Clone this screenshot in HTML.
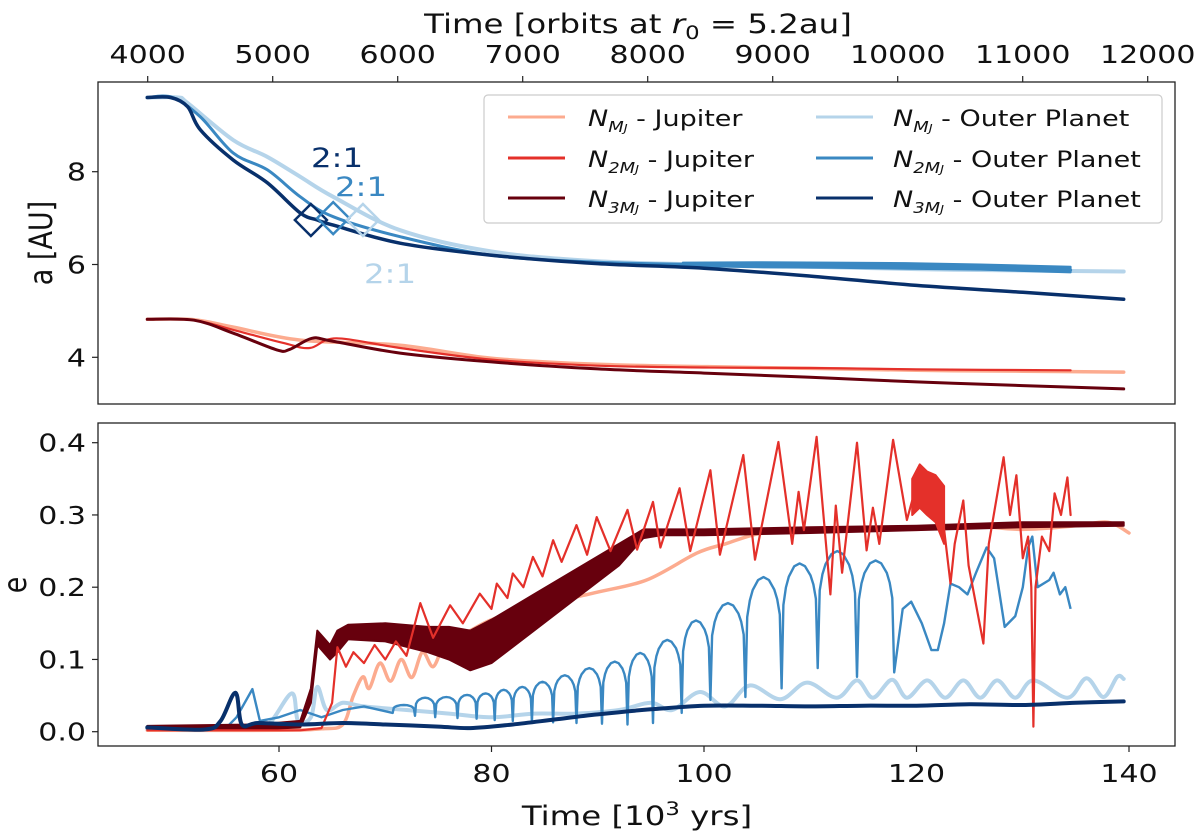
<!DOCTYPE html>
<html><head><meta charset="utf-8">
<style>
html,body{margin:0;padding:0;background:#fff;}
svg{display:block;font-family:"DejaVu Sans","Liberation Sans",sans-serif;}
</style></head>
<body>
<svg id="chart" width="1200" height="839" viewBox="0 0 1200 839" xmlns="http://www.w3.org/2000/svg">
<rect width="1200" height="839" fill="#fff"/>
<g id="top-panel"></g>
<g id="bot-panel"></g>
<g id="axes"></g>
<g id="labels"></g>
</svg>
<script>
// ---------- data ----------
const orbitTicks = [4000,5000,6000,7000,8000,9000,10000,11000,12000];
const timeTicks = [60,80,100,120,140];
const aTicks = [4,6,8];
const eTicks = [0.0,0.1,0.2,0.3,0.4];

const aNavyOut = [[47.6,9.6],[49.8,9.6],[51.4,9.4],[52.6,8.9],[55.7,8.25],[58.9,7.76],[62,7.11],[63.6,6.96],[65.1,6.85],[71.4,6.46],[80,6.2],[90,6.02],[100,5.92],[110,5.75],[120,5.55],[130,5.4],[139.5,5.25]];
const aBlueOut = [[47.6,9.6],[50,9.6],[52.6,9.18],[55.7,8.4],[58.9,8.04],[62,7.46],[65.1,7.03],[71.4,6.6],[80,6.2],[90,6.05],[100,6.0],[110,5.98],[120,5.95],[134.5,5.88]];
const aLightOut = [[47.6,9.6],[50.5,9.6],[51.4,9.48],[55.7,8.68],[58.9,8.32],[62,7.89],[65.1,7.46],[71.4,6.74],[80,6.28],[90,6.07],[100,6.0],[110,5.95],[120,5.9],[130,5.87],[139.5,5.85]];
const aDarkJup = [[47.6,4.82],[52,4.8],[55.7,4.52],[59.8,4.16],[61,4.17],[63.1,4.41],[65,4.35],[71.4,4.09],[80,3.9],[90,3.75],[100,3.66],[110,3.57],[120,3.47],[130,3.39],[139.5,3.32]];
const aRedJup = [[47.6,4.82],[52,4.8],[55.7,4.59],[60.4,4.31],[62.9,4.2],[65.4,4.41],[71.4,4.2],[80,3.95],[90,3.82],[100,3.78],[110,3.77],[120,3.74],[134.5,3.72]];
const aLightJup = [[47.6,4.82],[52,4.81],[55.7,4.65],[62,4.37],[71.4,4.26],[80,3.98],[90,3.85],[100,3.8],[110,3.76],[120,3.72],[130,3.7],[139.5,3.68]];
const resonanceT = [63.0,65.1,67.9];
const resonanceA = [6.96,7.0,6.96];

const eNavyOut = [[47.6,0.006],[53,0.003],[54.5,0.015],[55.9,0.054],[56.5,0.01],[58,0.012],[62,0.01],[66,0.012],[70,0.01],[75,0.007],[78,0.005],[82,0.01],[86,0.017],[90,0.024],[95,0.031],[100,0.036],[105,0.036],[110,0.035],[115,0.036],[120,0.036],[125,0.038],[130,0.037],[135,0.04],[139.5,0.042]];
const eLightOut = [[47.6,0.004],[57,0.004],[59,0.01],[61.2,0.053],[61.8,0.015],[63,0.02],[63.6,0.062],[64.5,0.03],[66,0.04],[68,0.035],[72,0.03],[76,0.025],[80,0.02],[84,0.025],[88,0.025],[92,0.03],[95,0.04],[97,0.03],[99.6,0.055],[102,0.035],[104.3,0.064],[107.2,0.045],[109.7,0.068],[112.5,0.047],[114.4,0.071],[115.9,0.047],[117.7,0.072],[119.1,0.047],[121,0.071],[122.7,0.047],[124.4,0.071],[126,0.047],[127.6,0.071],[129.3,0.047],[131,0.071],[134.2,0.047],[136,0.074],[137.6,0.048],[138.9,0.076],[139.5,0.073]];
const eBlueEarly = [[47.6,0.005],[55,0.005],[56,0.02],[57.5,0.059],[58.2,0.015],[60,0.02],[62,0.03],[64,0.02],[66,0.03],[68,0.035],[70.7,0.026]];
const blueTroughT = [70.7,72.8,74.7,76.8,78.6,80.3,82.0,83.8,85.8,88.0,90.4,92.8,95.2,97.9,100.6,103.9,107.3,110.7,114.4,117.9];
const blueTroughE = [0.026,0.022,0.02,0.019,0.018,0.016,0.015,0.014,0.013,0.012,0.011,0.01,0.012,0.026,0.044,0.048,0.06,0.088,0.076,0.082];
const bluePeakE = [0.037,0.047,0.048,0.051,0.053,0.058,0.062,0.069,0.078,0.088,0.097,0.109,0.127,0.154,0.178,0.214,0.233,0.25,0.237];
const eBlueLate = [[117.9,0.082],[118.7,0.17],[119.5,0.18],[120.5,0.15],[121.4,0.113],[122,0.113],[122.6,0.15],[123.2,0.205],[124,0.2],[124.8,0.19],[125.6,0.22],[126.6,0.255],[127.3,0.24],[128.3,0.145],[129.3,0.16],[130,0.2],[130.5,0.255],[130.9,0.27],[131.4,0.2],[132.5,0.21],[132.9,0.22],[133.5,0.19],[134,0.2],[134.5,0.17]];
const eSalmonJup = [[47.6,0.002],[60,0.002],[64,0.004],[66,0.01],[67,0.05],[67.9,0.076],[68.5,0.06],[69.5,0.095],[70.5,0.07],[71.5,0.1],[72.5,0.075],[73.5,0.11],[74.5,0.09],[75.5,0.12],[76.5,0.13],[78,0.14],[80,0.155],[83.6,0.172],[86,0.18],[89.9,0.193],[94.6,0.21],[99.3,0.247],[102,0.26],[105.5,0.275],[110,0.277],[113,0.28],[116,0.283],[120,0.28],[125,0.285],[130,0.28],[135,0.285],[138,0.29],[140,0.275]];
const darkT = [47.6,58,62,63,63.6,64.8,65.5,66.5,70,74,76,78,80,84,88,92,94.3,96,100,110,120,130,139.5];
const darkHi = [0.008,0.01,0.015,0.06,0.14,0.12,0.14,0.148,0.15,0.145,0.145,0.14,0.155,0.19,0.225,0.26,0.28,0.28,0.28,0.283,0.285,0.29,0.29];
const darkLo = [0.003,0.003,0.006,0.04,0.12,0.1,0.11,0.128,0.125,0.11,0.1,0.085,0.095,0.14,0.185,0.23,0.268,0.272,0.272,0.275,0.279,0.283,0.285];
const eRedJup = [[47.6,0.002],[62,0.002],[64,0.005],[65,0.04],[65.5,0.117],[66.3,0.09],[67,0.11],[68,0.095],[69,0.12],[70,0.1],[71,0.125],[72,0.105],[73.3,0.178],[74.5,0.13],[76.1,0.175],[77.3,0.15],[78.9,0.191],[80.0,0.17],[80.5,0.205],[81.5,0.185],[82.0,0.219],[83.0,0.2],[83.9,0.242],[84.8,0.215],[85.8,0.265],[86.6,0.235],[88.0,0.286],[89.0,0.245],[89.9,0.297],[91.2,0.25],[92.8,0.307],[93.7,0.252],[95.2,0.318],[95.9,0.255],[97.7,0.337],[98.7,0.25],[100.6,0.362],[101.5,0.245],[103.7,0.383],[104.8,0.238],[107.0,0.401],[108.3,0.26],[108.9,0.332],[109.4,0.279],[110.6,0.408],[111.9,0.19],[112.4,0.313],[113,0.22],[114.4,0.4],[115.3,0.251],[115.9,0.31],[116.5,0.26],[117.8,0.404],[119.1,0.293],[119.6,0.32],[122.6,0.28],[123.2,0.205],[123.6,0.26],[124.4,0.32],[124.9,0.23],[126.3,0.122],[126.8,0.26],[128.2,0.38],[128.8,0.3],[129.4,0.355],[130,0.24],[130.5,0.27],[130.8,0.2],[131,0.007],[131.2,0.2],[131.8,0.27],[132.5,0.25],[133,0.33],[133.6,0.3],[134.2,0.352],[134.5,0.3]];
const redBandT = [119.6,120.3,121,121.8,122.6];
const redBandHi = [0.35,0.37,0.36,0.355,0.34];
const redBandLo = [0.3,0.31,0.3,0.29,0.26];
const aBlueBandT = [98,105,112,119,126,134.5];
const aBlueBandHi = [6.04,6.05,6.04,6.03,6.0,5.95];
const aBlueBandLo = [5.97,5.94,5.93,5.91,5.89,5.83];

// ---------- scales ----------
const xT = t => 279 + (t - 60) * 10.625;
const xO = o => 147.7 + (o - 4000) * 0.125;
const yA = a => 357.3 - (a - 4) * 46.4;
const yE = e => 731.7 - e * 722.5;

const C = {salmon:'#fcab8f', red:'#e4302a', dark:'#67000d', light:'#b5d4ea', blue:'#3a88c2', navy:'#08306b'};
const NS = 'http://www.w3.org/2000/svg';
const SX = 1.2;
function mk(tag, attrs, parent){const el=document.createElementNS(NS,tag);for(const k in attrs)el.setAttribute(k,attrs[k]);parent.appendChild(el);return el;}

function smoothPath(pts){
  let d = `M${pts[0][0].toFixed(1)},${pts[0][1].toFixed(1)}`;
  for(let i=0;i<pts.length-1;i++){
    const p0=pts[Math.max(0,i-1)],p1=pts[i],p2=pts[i+1],p3=pts[Math.min(pts.length-1,i+2)];
    const c1x=p1[0]+(p2[0]-p0[0])/6,c1y=p1[1]+(p2[1]-p0[1])/6;
    const c2x=p2[0]-(p3[0]-p1[0])/6,c2y=p2[1]-(p3[1]-p1[1])/6;
    d+=` C${c1x.toFixed(1)},${c1y.toFixed(1)} ${c2x.toFixed(1)},${c2y.toFixed(1)} ${p2[0].toFixed(1)},${p2[1].toFixed(1)}`;
  }
  return d;
}
function linePath(pts){return 'M'+pts.map(p=>p[0].toFixed(1)+','+p[1].toFixed(1)).join(' L');}

const topG = document.getElementById('top-panel');
const botG = document.getElementById('bot-panel');
const axG = document.getElementById('axes');
const labG = document.getElementById('labels');

// stretched text helper (returns the text element)
function stext(parent, x, y, size, anchor, fill, extra){
  const g = mk('g',{transform:`translate(${x},${y}) scale(${SX},1)` + (extra||'')}, parent);
  return mk('text',{x:0,y:0,'text-anchor':anchor,'font-size':size,fill:fill}, g);
}

function drawLine(parent, data, sx, sy, color, w, name, smooth=true){
  const pts = data.map(p=>[sx(p[0]), sy(p[1])]);
  const el = mk('path',{d: smooth?smoothPath(pts):linePath(pts), fill:'none', stroke:color, 'stroke-width':w, 'stroke-linejoin':'round','stroke-linecap':'round'}, parent);
  
  
  return el;
}
function drawBand(parent, ts, hi, lo, sx, sy, color, name){
  const up = ts.map((t,i)=>[sx(t), sy(hi[i])]);
  const dn = ts.map((t,i)=>[sx(t), sy(lo[i])]).reverse();
  const el = mk('path',{d: linePath(up.concat(dn))+' Z', fill:color, stroke:color, 'stroke-width':2,'stroke-linejoin':'round'}, parent);
  
  
}

const defs = mk('defs',{},document.getElementById('chart'));
const cp1 = mk('clipPath',{id:'c1'},defs); mk('rect',{x:98,y:82,width:1077,height:322},cp1);
const cp2 = mk('clipPath',{id:'c2'},defs); mk('rect',{x:98,y:423,width:1077,height:323},cp2);
topG.setAttribute('clip-path','url(#c1)');
botG.setAttribute('clip-path','url(#c2)');

// ---------- top panel ----------
drawLine(topG, aLightJup, xT, yA, C.salmon, 3.5, 'a-line-nmj-jupiter');
drawLine(topG, aRedJup, xT, yA, C.red, 2.2, 'a-line-n2mj-jupiter');
drawLine(topG, aDarkJup, xT, yA, C.dark, 3, 'a-line-n3mj-jupiter');
drawLine(topG, aLightOut, xT, yA, C.light, 4, 'a-line-nmj-outer');
drawBand(topG, aBlueBandT, aBlueBandHi, aBlueBandLo, xT, yA, C.blue, 'a-band-n2mj-outer');
drawLine(topG, aBlueOut, xT, yA, C.blue, 3, 'a-line-n2mj-outer');
drawLine(topG, aNavyOut, xT, yA, C.navy, 3.5, 'a-line-n3mj-outer');
const resColors = [C.navy, C.blue, C.light];
const resNames = ['resonance-marker-n3mj','resonance-marker-n2mj','resonance-marker-nmj'];
resonanceT.forEach((t,i)=>{
  const cx=xT(t), cy=yA(resonanceA[i]), r=16;
  const el = mk('path',{d:`M${cx},${cy-r} L${cx+r},${cy} L${cx},${cy+r} L${cx-r},${cy} Z`, fill:'none', stroke:resColors[i], 'stroke-width':2.5}, topG);
  
  
});
const resLabels = [[337,167,C.navy],[361,196,C.blue],[390,283,C.light]];
const resLabelNames = ['resonance-label-n3mj','resonance-label-n2mj','resonance-label-nmj'];
resLabels.forEach((p,i)=>{
  const el = stext(labG, p[0], p[1], 27, 'middle', p[2]);
  el.textContent='2:1';
  
  
});

// ---------- bottom panel ----------
drawLine(botG, eSalmonJup, xT, yE, C.salmon, 3.5, 'e-line-nmj-jupiter');
drawLine(botG, eLightOut, xT, yE, C.light, 4, 'e-line-nmj-outer');
(function(){
  const pts = eBlueEarly.map(p=>[xT(p[0]), yE(p[1])]);
  for(let i=0;i<blueTroughT.length-1;i++){
    const a=blueTroughT[i], b=blueTroughT[i+1], ta=blueTroughE[i], tb=blueTroughE[i+1], pk=bluePeakE[i];
    const fr=[0.05,0.12,0.2,0.35,0.5,0.65,0.8,0.88,0.95,1];
    fr.forEach(s=>{
      const base = ta + (tb-ta)*s;
      const shape = Math.pow(Math.sin(Math.PI*s),0.22);
      pts.push([xT(a+(b-a)*s), yE(base + (pk-base)*shape)]);
    });
  }
  eBlueLate.slice(1).forEach(p=>pts.push([xT(p[0]), yE(p[1])]));
  const el = mk('path',{d:linePath(pts), fill:'none', stroke:C.blue,'stroke-width':2.4,'stroke-linejoin':'round'}, botG);
  
  
})();
drawBand(botG, darkT, darkHi, darkLo, xT, yE, C.dark, 'e-band-n3mj-jupiter');
drawBand(botG, redBandT, redBandHi, redBandLo, xT, yE, C.red, 'e-band-n2mj-jupiter');
drawLine(botG, eRedJup, xT, yE, C.red, 2.2, 'e-line-n2mj-jupiter', false);
drawLine(botG, eNavyOut, xT, yE, C.navy, 4, 'e-line-n3mj-outer');

// ---------- axes ----------
function frame(y0,h,name){const el=mk('rect',{x:98,y:y0,width:1077,height:h,fill:'none',stroke:'#222','stroke-width':1.3},axG);
  
  }
frame(82,322,'top-panel-frame'); frame(423,323,'bottom-panel-frame');

orbitTicks.forEach(o=>{
  const x=xO(o);
  mk('line',{x1:x,y1:82,x2:x,y2:76,stroke:'#222','stroke-width':1.2},axG);
  const t=stext(labG, x, 63, 25, 'middle', '#111');
  t.textContent=o;
  
  
});
timeTicks.forEach(v=>{
  const x=xT(v);
  mk('line',{x1:x,y1:746,x2:x,y2:752,stroke:'#222','stroke-width':1.2},axG);
  const t=stext(labG, x, 782, 25, 'middle', '#111');
  t.textContent=v;
  
  
});
aTicks.forEach(v=>{
  const y=yA(v);
  mk('line',{x1:98,y1:y,x2:92,y2:y,stroke:'#222','stroke-width':1.2},axG);
  const t=stext(labG, 86, y+9, 25, 'end', '#111');
  t.textContent=v;
  
  
});
eTicks.forEach(v=>{
  const y=yE(v);
  mk('line',{x1:98,y1:y,x2:92,y2:y,stroke:'#222','stroke-width':1.2},axG);
  const t=stext(labG, 86, y+9, 25, 'end', '#111');
  t.textContent=v.toFixed(1);
  
  
});
</script>
<svg style="position:absolute;left:0;top:0" width="1200" height="839" font-family="DejaVu Sans, sans-serif">
  <g transform="translate(638,33) scale(1.2,1)"><text x="0" y="0" text-anchor="middle" font-size="27" fill="#111">Time [orbits at <tspan font-style="italic">r</tspan><tspan font-size="19" dy="6">0</tspan><tspan dy="-6"> = 5.2au]</tspan></text></g>
  <g transform="translate(52,243) scale(1.2,1) rotate(-90)"><text x="0" y="0" text-anchor="middle" font-size="27" fill="#111">a [AU]</text></g>
  <g transform="translate(26,585) scale(1.2,1) rotate(-90)"><text x="0" y="0" text-anchor="middle" font-size="27" fill="#111">e</text></g>
  <g transform="translate(637,825) scale(1.2,1)"><text x="0" y="0" text-anchor="middle" font-size="27" fill="#111">Time [10<tspan font-size="19" dy="-10">3</tspan><tspan dy="10"> yrs]</tspan></text></g>
  <g font-size="22.5" fill="#111">
    <rect x="484" y="95" width="678" height="128" rx="4" fill="#fff" fill-opacity="0.85" stroke="#ccc" stroke-width="1.2"/>
    <g><line x1="508" y1="117" x2="565" y2="117" stroke="#fcab8f" stroke-width="3"/><g transform="translate(588,126) scale(1.2,1)"><text x="0" y="0"><tspan font-style="italic">N</tspan><tspan font-style="italic" font-size="15" dy="6">M<tspan font-size="11">J</tspan></tspan><tspan dy="-6">  - Jupiter</tspan></text></g></g>
    <g><line x1="508" y1="158" x2="565" y2="158" stroke="#e4302a" stroke-width="3"/><g transform="translate(588,167) scale(1.2,1)"><text x="0" y="0"><tspan font-style="italic">N</tspan><tspan font-style="italic" font-size="15" dy="6">2M<tspan font-size="11">J</tspan></tspan><tspan dy="-6"> - Jupiter</tspan></text></g></g>
    <g><line x1="508" y1="198" x2="565" y2="198" stroke="#67000d" stroke-width="3"/><g transform="translate(588,207) scale(1.2,1)"><text x="0" y="0"><tspan font-style="italic">N</tspan><tspan font-style="italic" font-size="15" dy="6">3M<tspan font-size="11">J</tspan></tspan><tspan dy="-6"> - Jupiter</tspan></text></g></g>
    <g><line x1="816" y1="117" x2="873" y2="117" stroke="#b5d4ea" stroke-width="3"/><g transform="translate(893,126) scale(1.2,1)"><text x="0" y="0"><tspan font-style="italic">N</tspan><tspan font-style="italic" font-size="15" dy="6">M<tspan font-size="11">J</tspan></tspan><tspan dy="-6">  - Outer Planet</tspan></text></g></g>
    <g><line x1="816" y1="158" x2="873" y2="158" stroke="#3a88c2" stroke-width="3"/><g transform="translate(893,167) scale(1.2,1)"><text x="0" y="0"><tspan font-style="italic">N</tspan><tspan font-style="italic" font-size="15" dy="6">2M<tspan font-size="11">J</tspan></tspan><tspan dy="-6"> - Outer Planet</tspan></text></g></g>
    <g><line x1="816" y1="198" x2="873" y2="198" stroke="#08306b" stroke-width="3"/><g transform="translate(893,207) scale(1.2,1)"><text x="0" y="0"><tspan font-style="italic">N</tspan><tspan font-style="italic" font-size="15" dy="6">3M<tspan font-size="11">J</tspan></tspan><tspan dy="-6"> - Outer Planet</tspan></text></g></g>
  </g>
</svg>
</body></html>
